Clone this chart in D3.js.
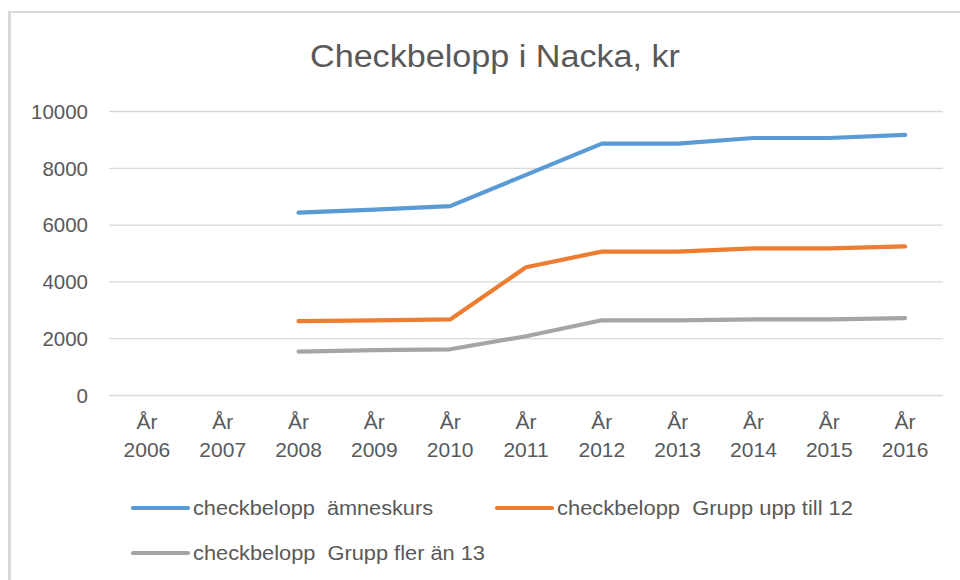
<!DOCTYPE html>
<html><head><meta charset="utf-8">
<script src="https://cdn.jsdelivr.net/npm/d3@7"></script>
<style>
html,body{margin:0;padding:0;background:#fff;}
svg{display:block;}
text{font-family:"Liberation Sans",Arial,sans-serif;fill:#595959;}
</style></head>
<body>
<svg id="chart" width="960" height="580"></svg>
<script>
const title = "Checkbelopp i Nacka, kr";
const years = ["2006","2007","2008","2009","2010","2011","2012","2013","2014","2015","2016"];
const categoryPrefix = "År";
const seriesNames = ["checkbelopp  ämneskurs", "checkbelopp  Grupp upp till 12", "checkbelopp  Grupp fler än 13"];
const amneskurs = [null, null, 6420, 6530, 6650, 7750, 8850, 8850, 9050, 9050, 9160];
const gruppUpp12 = [null, null, 2600, 2625, 2660, 4500, 5050, 5050, 5160, 5160, 5230];
const gruppFler13 = [null, null, 1530, 1580, 1610, 2070, 2630, 2630, 2660, 2660, 2710];
const yTicks = [0, 2000, 4000, 6000, 8000, 10000];
const colors = ["#5b9bd5", "#ed7d31", "#a5a5a5"];

const series = [amneskurs, gruppUpp12, gruppFler13];
const svg = d3.select("#chart");

// chart area frame (left and top edges visible)
svg.append("rect").attr("x", 8).attr("y", 11).attr("width", 952).attr("height", 2).attr("fill", "#d9d9d9");
svg.append("rect").attr("x", 8).attr("y", 11).attr("width", 3).attr("height", 569).attr("fill", "#d9d9d9");

// title
svg.append("text").attr("x", 495).attr("y", 67).attr("text-anchor", "middle")
  .attr("font-size", 31).attr("textLength", 370).attr("lengthAdjust", "spacingAndGlyphs")
  .text(title);

const x = d3.scaleBand().domain(years).range([109, 943]).padding(0);
const y = d3.scaleLinear().domain([0, 10000]).range([395, 111]);

// gridlines
const yAxis = d3.axisLeft(y).tickValues(yTicks).tickSize(-(943 - 109)).tickFormat(d => d);
const gy = svg.append("g").attr("transform", "translate(109,0)").call(yAxis);
gy.select(".domain").remove();
gy.selectAll(".tick line").attr("stroke", "#d9d9d9").attr("stroke-width", 1.3);
gy.selectAll(".tick text").attr("x", -21).attr("font-size", 20.5).attr("fill", "#595959")
  .attr("dy", "0.36em");

// x axis labels (two lines)
const xAxis = d3.axisBottom(x).tickSize(0).tickFormat(() => "");
const gx = svg.append("g").attr("transform", "translate(0,395)").call(xAxis);
gx.select(".domain").remove();
gx.selectAll(".tick text").remove();
gx.selectAll(".tick").each(function(d) {
  const t = d3.select(this).append("text").attr("text-anchor", "middle").attr("font-size", 21).attr("fill", "#595959");
  t.append("tspan").attr("x", 0).attr("y", 34).text(categoryPrefix);
  t.append("tspan").attr("x", 0).attr("y", 62).text(d);
});

// lines
const line = d3.line()
  .defined(d => d.v !== null)
  .x(d => x(d.year) + x.bandwidth() / 2)
  .y(d => y(d.v));

series.forEach((vals, i) => {
  const data = years.map((yr, j) => ({year: yr, v: vals[j]}));
  svg.append("path").datum(data).attr("d", line)
    .attr("fill", "none").attr("stroke", colors[i]).attr("stroke-width", 4.2)
    .attr("stroke-linejoin", "round").attr("stroke-linecap", "round");
});

// legend
const legendItems = [
  {x: 133, y: 508, w: 240},
  {x: 497, y: 508, w: 296},
  {x: 133, y: 553, w: 292}
];
legendItems.forEach((it, i) => {
  const g = svg.append("g").attr("transform", `translate(${it.x},${it.y})`);
  g.append("line").attr("x1", 0).attr("x2", 55).attr("y1", 0).attr("y2", 0)
    .attr("stroke", colors[i]).attr("stroke-width", 4.2).attr("stroke-linecap", "round");
  g.append("text").attr("x", 60).attr("y", 7).attr("font-size", 20)
    .attr("textLength", it.w).attr("lengthAdjust", "spacingAndGlyphs")
    .style("white-space", "pre").text(seriesNames[i]);
});
</script>
</body></html>
